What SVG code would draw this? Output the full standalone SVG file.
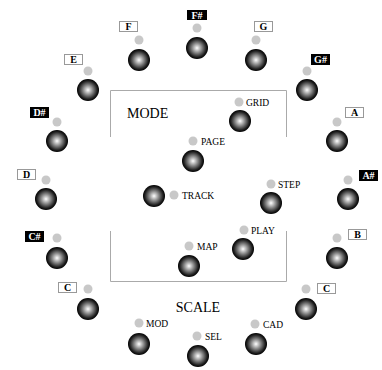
<svg xmlns="http://www.w3.org/2000/svg" width="382" height="370" viewBox="0 0 382 370">
<defs>
<radialGradient id="ball" cx="50%" cy="50%" r="50%">
<stop offset="0" stop-color="#ffffff"/>
<stop offset="0.45" stop-color="#858585"/>
<stop offset="0.82" stop-color="#222222"/>
<stop offset="1" stop-color="#000000"/>
</radialGradient>
<style>
.b{fill:url(#ball)}
.led{fill:#c8c8c8}
.bw{fill:#fff;stroke:#999;stroke-width:1}
.bb{fill:#000}
.tw{font-family:"Liberation Serif",serif;font-weight:bold;font-size:10px;fill:#000;text-anchor:middle}
.tb{font-family:"Liberation Serif",serif;font-weight:bold;font-size:10px;fill:#fff;text-anchor:middle}
.lb{font-family:"Liberation Serif",serif;font-size:9.5px;fill:#000}
.ttl{font-family:"Liberation Serif",serif;font-size:14px;fill:#000}
.frame{fill:none;stroke:#aaa;stroke-width:1}
</style>
</defs>
<rect width="382" height="370" fill="#fff"/>
<g id="frames">
<path class="frame" d="M110.5,137 V90.5 H286.5 V137"/>
<path class="frame" d="M110.5,231 V281.5 H286.5 V231"/>
<text class="ttl" x="127" y="118">MODE</text>
<text class="ttl" x="198" y="312" text-anchor="middle" font-size="13.5">SCALE</text>
</g>
<g id="note-Fs"><rect class="bb" x="187" y="10" width="20" height="10"/><text class="tb" x="197" y="18.5">F#</text><circle class="led" cx="197" cy="28" r="4.5"/><circle class="b" cx="197" cy="48" r="11"/></g>
<g id="note-F"><rect class="bw" x="119.5" y="21.5" width="18" height="10"/><text class="tw" x="128.5" y="29.8">F</text><circle class="led" cx="139" cy="40" r="4.5"/><circle class="b" cx="139" cy="60" r="11"/></g>
<g id="note-G"><rect class="bw" x="254.5" y="21.5" width="18" height="10"/><text class="tw" x="263.5" y="29.8">G</text><circle class="led" cx="256" cy="40" r="4.5"/><circle class="b" cx="256" cy="60" r="11"/></g>
<g id="note-E"><rect class="bw" x="64.5" y="54.5" width="18" height="10"/><text class="tw" x="73.5" y="62.8">E</text><circle class="led" cx="88" cy="71" r="4.5"/><circle class="b" cx="88" cy="90" r="11"/></g>
<g id="note-Gs"><rect class="bb" x="311" y="54" width="19" height="11"/><text class="tb" x="320.5" y="62.8">G#</text><circle class="led" cx="307" cy="71" r="4.5"/><circle class="b" cx="307" cy="90" r="11"/></g>
<g id="note-Ds"><rect class="bb" x="30" y="107" width="19" height="11"/><text class="tb" x="39.5" y="115.8">D#</text><circle class="led" cx="57" cy="122" r="4.5"/><circle class="b" cx="57" cy="141" r="11"/></g>
<g id="note-A"><rect class="bw" x="345.5" y="107.5" width="18" height="10"/><text class="tw" x="354.5" y="115.8">A</text><circle class="led" cx="337" cy="122" r="4.5"/><circle class="b" cx="337" cy="141" r="11"/></g>
<g id="note-D"><rect class="bw" x="17.5" y="169.5" width="18" height="10"/><text class="tw" x="26.5" y="177.8">D</text><circle class="led" cx="46" cy="180" r="4.5"/><circle class="b" cx="46" cy="199" r="11"/></g>
<g id="note-As"><rect class="bb" x="359" y="170" width="19" height="11"/><text class="tb" x="368.5" y="178.8">A#</text><circle class="led" cx="348" cy="180" r="4.5"/><circle class="b" cx="348" cy="199" r="11"/></g>
<g id="note-Cs"><rect class="bb" x="25" y="231" width="19" height="11"/><text class="tb" x="34.5" y="239.8">C#</text><circle class="led" cx="57" cy="238" r="4.5"/><circle class="b" cx="57" cy="258" r="11"/></g>
<g id="note-B"><rect class="bw" x="348.5" y="229.5" width="18" height="10"/><text class="tw" x="357.5" y="237.8">B</text><circle class="led" cx="337" cy="238" r="4.5"/><circle class="b" cx="337" cy="258" r="11"/></g>
<g id="note-C-left"><rect class="bw" x="58.5" y="282.5" width="18" height="10"/><text class="tw" x="67.5" y="290.8">C</text><circle class="led" cx="88" cy="289" r="4.5"/><circle class="b" cx="88" cy="309" r="11"/></g>
<g id="note-C-right"><rect class="bw" x="317.5" y="283.5" width="18" height="10"/><text class="tw" x="326.5" y="291.8">C</text><circle class="led" cx="306" cy="289" r="4.5"/><circle class="b" cx="306" cy="309" r="11"/></g>
<g id="btn-GRID"><circle class="led" cx="239" cy="102" r="4.5"/><text class="lb" x="246" y="106">GRID</text><circle class="b" cx="240" cy="121" r="11"/></g>
<g id="btn-PAGE"><circle class="led" cx="193" cy="141" r="4.5"/><text class="lb" x="201" y="145">PAGE</text><circle class="b" cx="193" cy="161" r="11"/></g>
<g id="btn-TRACK"><circle class="b" cx="154" cy="196" r="11"/><circle class="led" cx="174" cy="195" r="4.5"/><text class="lb" x="182" y="199">TRACK</text></g>
<g id="btn-STEP"><circle class="led" cx="271" cy="184" r="4.5"/><text class="lb" x="278" y="188">STEP</text><circle class="b" cx="271" cy="203" r="11"/></g>
<g id="btn-PLAY"><circle class="led" cx="244" cy="230" r="4.5"/><text class="lb" x="251" y="234">PLAY</text><circle class="b" cx="243" cy="249" r="11"/></g>
<g id="btn-MAP"><circle class="led" cx="189" cy="246" r="4.5"/><text class="lb" x="197" y="250">MAP</text><circle class="b" cx="189" cy="266" r="11"/></g>
<g id="btn-MOD"><circle class="led" cx="139" cy="323" r="4.5"/><text class="lb" x="146" y="327">MOD</text><circle class="b" cx="139" cy="344" r="11"/></g>
<g id="btn-SEL"><circle class="led" cx="197" cy="336" r="4.5"/><text class="lb" x="205" y="340">SEL</text><circle class="b" cx="198" cy="356" r="11"/></g>
<g id="btn-CAD"><circle class="led" cx="255" cy="324" r="4.5"/><text class="lb" x="263" y="328">CAD</text><circle class="b" cx="256" cy="344" r="11"/></g>
</svg>
